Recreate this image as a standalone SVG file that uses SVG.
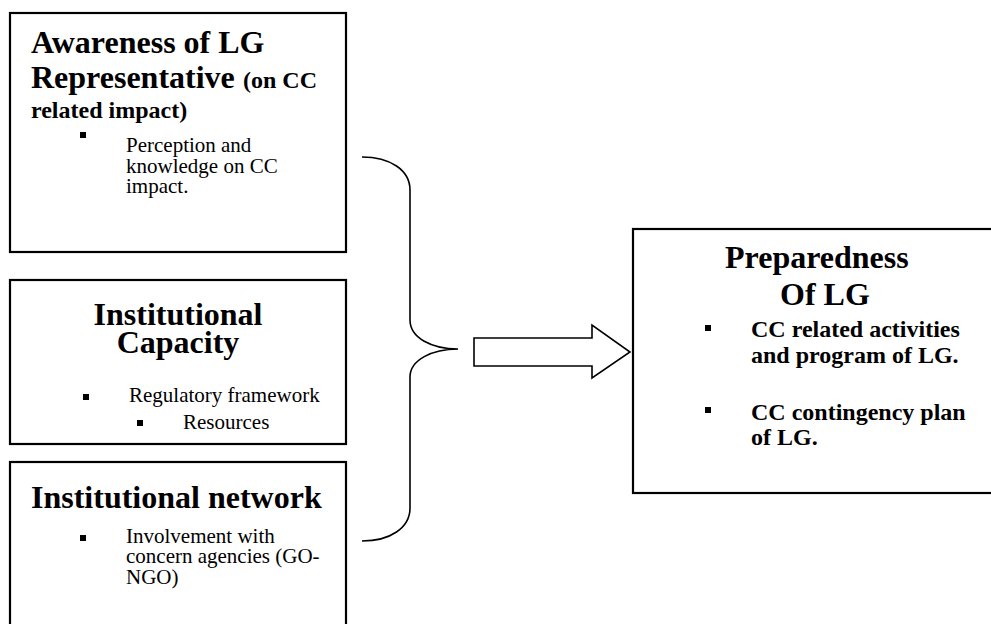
<svg xmlns="http://www.w3.org/2000/svg" width="991" height="624" viewBox="0 0 991 624">
<style>
.box{fill:#fff;stroke:#000;stroke-width:2.2}
.t{font-family:"Liberation Serif","Times New Roman",serif;fill:#000}
.h{font-size:32px;font-weight:bold}
.s{font-size:24px;font-weight:bold}
.b{font-size:21px}
.bb{font-size:24px;font-weight:bold}
.blt{fill:#000}
.con{fill:none;stroke:#000;stroke-width:1.6}
</style>
<rect width="991" height="624" fill="#fff"/>
<g id="awareness">
<rect class="box" x="10" y="13" width="336" height="239"/>
<text class="t h" x="31" y="53">Awareness of LG</text>
<text class="t h" x="31" y="88">Representative<tspan class="s" x="243">(on CC</tspan></text>
<text class="t s" x="31" y="118">related impact)</text>
<rect class="blt" x="80" y="132" width="6" height="6"/>
<text class="t b" x="126" y="152">Perception and</text>
<text class="t b" x="126" y="172.5">knowledge on CC</text>
<text class="t b" x="126" y="193">impact.</text>
</g>
<g id="capacity">
<rect class="box" x="10" y="280" width="336" height="164"/>
<text class="t h" x="178" y="325" text-anchor="middle">Institutional</text>
<text class="t h" x="178" y="353" text-anchor="middle">Capacity</text>
<rect class="blt" x="83" y="394" width="6" height="6"/>
<text class="t b" x="129" y="402">Regulatory framework</text>
<rect class="blt" x="137" y="420" width="6" height="6"/>
<text class="t b" x="183" y="429">Resources</text>
</g>
<g id="network">
<rect class="box" x="10" y="462" width="336" height="200"/>
<text class="t h" x="31" y="508">Institutional network</text>
<rect class="blt" x="80" y="535" width="6" height="6"/>
<text class="t b" x="126" y="542.5">Involvement with</text>
<text class="t b" x="126" y="563">concern agencies (GO-</text>
<text class="t b" x="126" y="583.5">NGO)</text>
</g>
<g id="preparedness">
<rect class="box" x="633" y="229" width="380" height="264"/>
<text class="t h" x="725" y="268">Preparedness</text>
<text class="t h" x="780" y="305">Of LG</text>
<rect class="blt" x="705" y="325" width="6" height="6"/>
<text class="t bb" x="751" y="337">CC related activities</text>
<text class="t bb" x="751" y="363">and program of LG.</text>
<rect class="blt" x="705" y="407" width="6" height="6"/>
<text class="t bb" x="751" y="420">CC contingency plan</text>
<text class="t bb" x="751" y="445">of LG.</text>
</g>
<g id="connectors">
<path class="con" d="M362,157 C390,157 410,170 410,190 L410,320 C410,338 432,349 458,349 C432,349 410,360 410,377 L410,508 C410,528 390,541 362,541"/>
<path class="con" d="M474,338 L592,338 L592,325 L630,352 L592,378 L592,366 L474,366 Z" fill="#fff"/>
</g>
</svg>
